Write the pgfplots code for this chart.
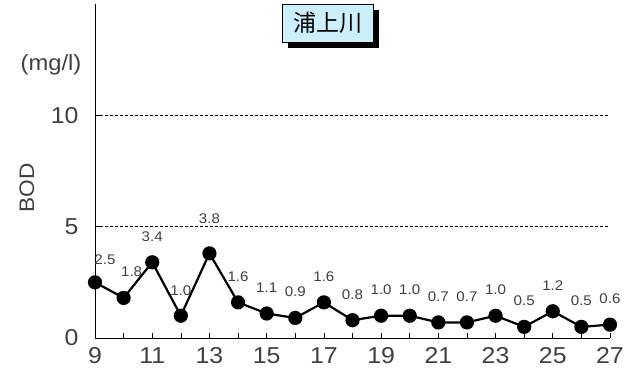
\documentclass[border=0pt]{standalone}
\usepackage{pgfplots}
\pgfplotsset{compat=1.18}
\usepackage{fontspec}
\setmainfont{Liberation Sans}[FakeStretch=1.08]
\newfontfamily\cjk{Noto Sans CJK JP}
\usetikzlibrary{shadows}
\begin{document}
\begin{tikzpicture}[x=1pt,y=1pt]
\useasboundingbox (0,0) rectangle (630,371);
\begin{axis}[
  at={(95pt,33pt)}, anchor=south west,
  scale only axis, width=515pt, height=334pt,
  xmin=9, xmax=27, ymin=0, ymax=15,
  axis lines*=left,
  axis line style={black, line width=0.8pt},
  clip=false,
  xtick={9,11,...,27},
  minor xtick={10,12,...,26},
  ytick={0,5,10},
  tick align=inside,
  major tick length=5pt, minor tick length=5pt,
  tick style={black, line width=0.6pt},
  ymajorgrids, major grid style={black, densely dashed, line width=0.5pt},
  /pgf/number format/assume math mode=true,
  ticklabel style={font=\fontsize{23}{23}\selectfont, text=black!75},
  xticklabel style={anchor=north, yshift=-6pt},
  yticklabel style={anchor=east, xshift=-13pt},
]
\addplot[black, line width=2.2pt, mark=*, mark size=6pt,
  visualization depends on={\thisrow{dy} \as \dy},
  visualization depends on={\thisrow{dx} \as \dx},
  nodes near coords,
  point meta=explicit symbolic,
  every node near coord/.append style={font=\fontsize{14}{14}\selectfont, text=black!75, anchor=south, yshift=\dy pt, xshift=\dx pt},
] table[x=x, y=y, meta=lab] {
x y lab dy dx
9 2.5 2.5 13.5 10
10 1.8 1.8 16.5 8
11 3.4 3.4 16.5 0
12 1.0 1.0 16 0
13 3.8 3.8 25.5 0
14 1.6 1.6 16 0
15 1.1 1.1 16.5 0
16 0.9 0.9 16.5 0
17 1.6 1.6 16 0
18 0.8 0.8 16.5 0
19 1.0 1.0 17 0
20 1.0 1.0 17 0
21 0.7 0.7 16 0
22 0.7 0.7 16 0
23 1.0 1.0 17 0
24 0.5 0.5 16.5 0
25 1.2 1.2 16 0
26 0.5 0.5 16.5 0
27 0.6 0.6 16.5 0
};
\end{axis}
\node[draw=black, line width=0.8pt, fill=cyan!20, minimum width=91pt, minimum height=38pt, inner sep=0pt,
  font=\cjk\fontsize{23}{23}\selectfont,
  drop shadow={shadow xshift=6pt, shadow yshift=-6pt, fill=black, opacity=1}] at (327.5,348) {浦上川};
\node[font=\fontsize{22}{22}\selectfont, text=black!75] at (51,306) {(mg/l)};
\node[font=\fontsize{21}{21}\selectfont, text=black!75, rotate=90] at (27,183) {BOD};
\end{tikzpicture}
\end{document}
